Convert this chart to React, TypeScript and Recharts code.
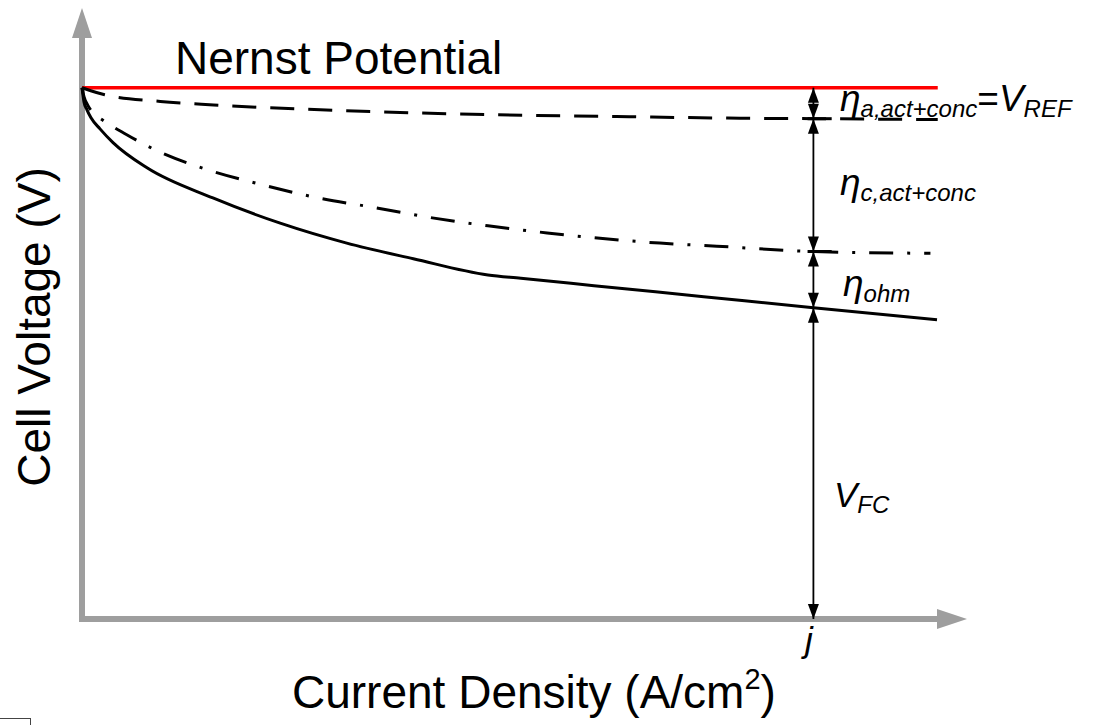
import React from 'react';
import { ComposedChart, Line, XAxis, YAxis, ReferenceLine, Customized } from 'recharts';

// current density (arbitrary units, j = 1.0) and cell voltage (V)
const nernstX = [0, 1.17];
const nernstV = [1.2, 1.2];

const anodeX = [0, 0.012, 0.031, 0.107, 0.18, 0.36, 0.503, 0.731, 0.9, 1.0, 1.17];
const anodeV = [1.2, 1.193, 1.184, 1.169, 1.161, 1.148, 1.141, 1.135, 1.131, 1.13, 1.128];

const cathodeX = [0, 0.0027, 0.008, 0.016, 0.029, 0.06, 0.097, 0.171, 0.246, 0.323, 0.401, 0.479, 0.555, 0.636, 0.79, 0.868, 1.0, 1.16];
const cathodeV = [1.2, 1.18, 1.16, 1.142, 1.126, 1.095, 1.062, 1.015, 0.981, 0.951, 0.929, 0.906, 0.888, 0.872, 0.849, 0.842, 0.83, 0.826];

const cellX = [0, 0.0014, 0.0027, 0.0068, 0.0123, 0.0246, 0.0424, 0.0889, 0.179, 0.271, 0.362, 0.453, 0.555, 0.6, 0.7, 0.85, 1.0, 1.169];
const cellV = [1.2, 1.182, 1.168, 1.15, 1.132, 1.107, 1.076, 1.019, 0.951, 0.894, 0.849, 0.8136, 0.777, 0.7695, 0.7529, 0.728, 0.703, 0.676];

const jValue = 1.0;
const xMax = 1.21;
const yMax = 1.38;

const font = "Arial, 'Liberation Sans', sans-serif";

const toPoints = (xs: number[], vs: number[]) => xs.map((x, i) => ({ x, v: vs[i] }));
const valueAt = (xs: number[], vs: number[], x: number) => vs[xs.indexOf(x)];

const levels = [
  valueAt(nernstX, nernstV, nernstX[0]),
  valueAt(anodeX, anodeV, jValue),
  valueAt(cathodeX, cathodeV, jValue),
  valueAt(cellX, cellV, jValue),
  0,
];

const AxisArrow = (props: any) => {
  const { x1, y1, x2, y2 } = props;
  const dx = x2 - x1;
  const dy = y2 - y1;
  const len = Math.hypot(dx, dy) || 1;
  const ux = dx / len;
  const uy = dy / len;
  const L = 30;
  const W = 10;
  const bx = x2 - ux * L;
  const by = y2 - uy * L;
  return (
    <g>
      <line x1={x1} y1={y1} x2={bx + ux} y2={by + uy} stroke="#9e9e9e" strokeWidth={6} strokeLinecap="square" />
      <polygon points={`${x2},${y2} ${bx - uy * W},${by + ux * W} ${bx + uy * W},${by - ux * W}`} fill="#9e9e9e" />
    </g>
  );
};

const DimArrow = (props: any) => {
  const { x1, y1, y2 } = props;
  const top = Math.min(y1, y2);
  const bot = Math.max(y1, y2);
  const L = 15;
  const W = 5.5;
  return (
    <g>
      <line x1={x1} y1={top} x2={x1} y2={bot} stroke="#000" strokeWidth={1.8} />
      <polygon points={`${x1},${top} ${x1 - W},${top + L} ${x1 + W},${top + L}`} fill="#000" />
      <polygon points={`${x1},${bot} ${x1 - W},${bot - L} ${x1 + W},${bot - L}`} fill="#000" />
    </g>
  );
};

const Annotations = () => (
  <g fontFamily={font} fill="#000">
    <text x={175} y={74} fontSize={46}>Nernst Potential</text>
    <text transform="translate(50,327) rotate(-90)" textAnchor="middle" fontSize={46}>Cell Voltage (V)</text>
    <text x={292} y={708} fontSize={46}>
      Current Density (A/cm<tspan fontSize={29} dy={-19}>2</tspan><tspan dy={19}>)</tspan>
    </text>
    <text x={809} y={652} fontSize={35} fontStyle="italic" textAnchor="middle">j</text>
    <text x={840} y={111} fontSize={37} fontStyle="italic">
      η<tspan fontSize={24} dy={6}>a,act+conc</tspan>
      <tspan fontSize={37} dy={-6} fontStyle="normal">=</tspan>
      <tspan fontSize={37}>V</tspan>
      <tspan fontSize={24} dy={6}>REF</tspan>
    </text>
    <text x={840} y={195} fontSize={37} fontStyle="italic">
      η<tspan fontSize={24} dy={6}>c,act+conc</tspan>
    </text>
    <text x={843} y={296} fontSize={37} fontStyle="italic">
      η<tspan fontSize={24} dy={6}>ohm</tspan>
    </text>
    <text x={834} y={507} fontSize={35} fontStyle="italic">
      V<tspan fontSize={24} dy={6}>FC</tspan>
    </text>
  </g>
);

export default function App() {
  return (
    <div style={{ position: 'absolute', left: 0, top: 0, width: 1097, height: 725, background: '#fff' }}>
      <ComposedChart
        width={1097}
        height={725}
        margin={{ top: 8, right: 130, bottom: 106, left: 82 }}
      >
        <XAxis type="number" dataKey="x" domain={[0, xMax]} hide height={0} />
        <YAxis type="number" dataKey="v" domain={[0, yMax]} hide width={0} />

        <ReferenceLine segment={[{ x: 0, y: 0 }, { x: 0, y: yMax }]} ifOverflow="visible" shape={AxisArrow} />
        <ReferenceLine segment={[{ x: 0, y: 0 }, { x: xMax, y: 0 }]} ifOverflow="visible" shape={AxisArrow} />

        <Line data={toPoints(nernstX, nernstV)} dataKey="v" type="linear" stroke="#ff0000" strokeWidth={3.5} dot={false} activeDot={false} isAnimationActive={false} />
        <Line data={toPoints(anodeX, anodeV)} dataKey="v" type="monotone" stroke="#000" strokeWidth={3} strokeDasharray="24 14" dot={false} activeDot={false} isAnimationActive={false} />
        <Line data={toPoints(cathodeX, cathodeV)} dataKey="v" type="monotone" stroke="#000" strokeWidth={3} strokeDasharray="24 14 3 14" dot={false} activeDot={false} isAnimationActive={false} />
        <Line data={toPoints(cellX, cellV)} dataKey="v" type="monotone" stroke="#000" strokeWidth={3} dot={false} activeDot={false} isAnimationActive={false} />

        {levels.slice(1, 3).map((lv, i) => (
          <ReferenceLine key={`tick-${i}`} segment={[{ x: jValue - 0.008, y: lv }, { x: jValue + 0.025, y: lv }]} stroke="#000" strokeWidth={3} ifOverflow="visible" />
        ))}
        {levels.slice(0, -1).map((lv, i) => (
          <ReferenceLine key={`dim-${i}`} segment={[{ x: jValue, y: lv }, { x: jValue, y: levels[i + 1] }]} ifOverflow="visible" shape={DimArrow} />
        ))}

        <Customized component={Annotations} />
      </ComposedChart>
      <div style={{ position: 'absolute', left: 0, top: 718, width: 31, height: 7, borderTop: '1px solid #444', borderRight: '1px solid #444', boxSizing: 'border-box' }} />
    </div>
  );
}
